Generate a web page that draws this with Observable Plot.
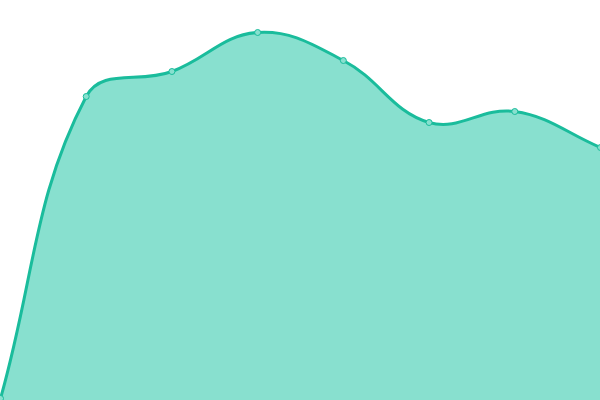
<!DOCTYPE html>
<html><head><meta charset="utf-8">
<script src="https://cdn.jsdelivr.net/npm/d3@7"></script>
<script src="https://cdn.jsdelivr.net/npm/@observablehq/plot@0.6"></script>
<style>body{margin:0;background:#fff}</style>
</head><body><div id="chart"></div>
<script>
const xs = [0, 1, 2, 3, 4, 5, 6, 7];
const values = [2, 304, 329, 368, 340, 278, 289, 253];
const data = xs.map((x, i) => ({x, v: values[i]}));

// Spline with distance-weighted tangents (tension 0.4)
class TensionSpline {
  constructor(ctx) { this._context = ctx; this._t = 0.4; }
  areaStart() { this._line = 0; }
  areaEnd() { this._line = NaN; }
  lineStart() { this._pts = []; }
  point(x, y) { this._pts.push([+x, +y]); }
  lineEnd() {
    const p = this._pts, n = p.length, c = this._context, t = this._t;
    if (n) {
      this._line ? c.lineTo(p[0][0], p[0][1]) : c.moveTo(p[0][0], p[0][1]);
      const cpPrev = [], cpNext = [];
      for (let i = 0; i < n; i++) {
        const a = p[Math.max(i - 1, 0)], b = p[i], d = p[Math.min(i + 1, n - 1)];
        const d01 = Math.hypot(b[0] - a[0], b[1] - a[1]);
        const d12 = Math.hypot(d[0] - b[0], d[1] - b[1]);
        let s01 = d01 / (d01 + d12), s12 = d12 / (d01 + d12);
        if (isNaN(s01)) s01 = 0;
        if (isNaN(s12)) s12 = 0;
        const fa = t * s01, fb = t * s12;
        cpPrev.push([b[0] - fa * (d[0] - a[0]), b[1] - fa * (d[1] - a[1])]);
        cpNext.push([b[0] + fb * (d[0] - a[0]), b[1] + fb * (d[1] - a[1])]);
      }
      for (let i = 1; i < n; i++) {
        c.bezierCurveTo(cpNext[i - 1][0], cpNext[i - 1][1], cpPrev[i][0], cpPrev[i][1], p[i][0], p[i][1]);
      }
    }
    if (this._line || (this._line !== 0 && n === 1)) c.closePath();
    this._line = 1 - this._line;
  }
}
const tensionCurve = (ctx) => new TensionSpline(ctx);

const chart = Plot.plot({
  width: 600, height: 400,
  margin: 0,
  x: {domain: [0, 7], axis: null},
  y: {domain: [0, 400], axis: null},
  marks: [
    Plot.areaY(data, {x: "x", y: "v", curve: tensionCurve, fill: "#88e0cf"}),
    Plot.lineY(data, {x: "x", y: "v", curve: tensionCurve, stroke: "#1abc9c", strokeWidth: 3}),
    Plot.dot(data, {x: "x", y: "v", r: 3, fill: "#88e0cf", stroke: "#1abc9c", strokeWidth: 1})
  ]
});
document.getElementById("chart").appendChild(chart);
</script></body></html>
